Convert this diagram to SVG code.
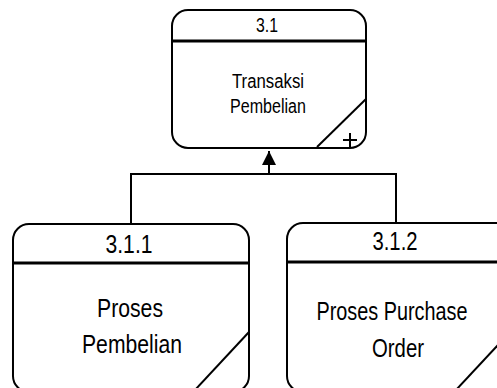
<svg xmlns="http://www.w3.org/2000/svg" width="497" height="388" viewBox="0 0 497 388">
<style>
.box{fill:#fff;stroke:#000;stroke-width:2}
.hdr{stroke:#000;stroke-width:3}
.ln{stroke:#000;stroke-width:2;fill:none}
.t{font-family:"Liberation Sans Narrow","Arial Narrow","Liberation Sans",Arial,sans-serif;fill:#000;text-anchor:middle}
.s{font-size:20px}
.b{font-size:26px}
</style>
<defs>
<marker id="arr" viewBox="0 0 14 14" refX="14" refY="7" markerWidth="14" markerHeight="14" markerUnits="userSpaceOnUse" orient="auto">
<path d="M0,0 L14,7 L0,14 Z" fill="#000"/>
</marker>
</defs>
<rect width="497" height="388" fill="#fff"/>
<g id="connectors">
<polyline class="ln" points="131,224 131,174 396,174 396,223"/>
<line class="ln" x1="269" y1="174" x2="269" y2="151" marker-end="url(#arr)"/>
</g>
<g id="node-3.1">
<rect class="box" x="172" y="10" width="194" height="138" rx="16"/>
<line class="hdr" x1="172" y1="41" x2="366" y2="41"/>
<line class="ln" x1="317" y1="147" x2="366" y2="99"/>
<path class="ln" d="M343,140 H357 M350,133 V147" stroke-width="1.5"/>
<text class="t s" x="267" y="32" textLength="22" lengthAdjust="spacingAndGlyphs">3.1</text>
<text class="t s" x="268" y="88" textLength="72" lengthAdjust="spacingAndGlyphs">Transaksi</text>
<text class="t s" x="268" y="113" textLength="76" lengthAdjust="spacingAndGlyphs">Pembelian</text>
</g>
<g id="node-3.1.1">
<rect class="box" x="13" y="224" width="236" height="168" rx="16"/>
<line class="hdr" x1="13" y1="263" x2="249" y2="263"/>
<line class="ln" x1="195" y1="390" x2="249" y2="332"/>
<text class="t b" x="129" y="253" textLength="47" lengthAdjust="spacingAndGlyphs">3.1.1</text>
<text class="t b" x="130" y="317" textLength="66" lengthAdjust="spacingAndGlyphs">Proses</text>
<text class="t b" x="132" y="353" textLength="100" lengthAdjust="spacingAndGlyphs">Pembelian</text>
</g>
<g id="node-3.1.2">
<rect class="box" x="287" y="223" width="236" height="169" rx="16"/>
<line class="hdr" x1="287" y1="262" x2="523" y2="262"/>
<line class="ln" x1="456" y1="390" x2="523" y2="318"/>
<text class="t b" x="395" y="250" textLength="45" lengthAdjust="spacingAndGlyphs">3.1.2</text>
<text class="t b" x="392" y="320" textLength="151" lengthAdjust="spacingAndGlyphs">Proses Purchase</text>
<text class="t b" x="398" y="357" textLength="52" lengthAdjust="spacingAndGlyphs">Order</text>
</g>
</svg>
